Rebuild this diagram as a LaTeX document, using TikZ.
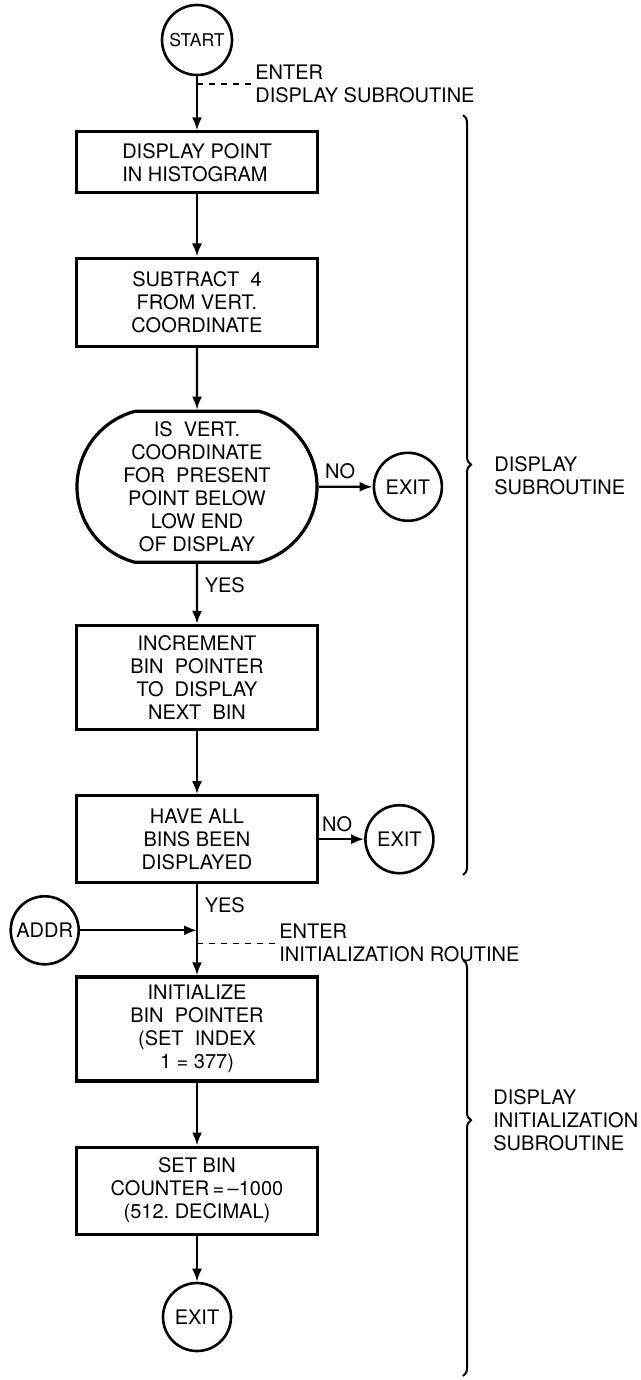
\documentclass[tikz,border=0pt]{standalone}
\usepackage{fontspec}
\setmainfont{TeX Gyre Heros}
\usetikzlibrary{positioning,shapes.misc,arrows.meta,decorations.pathreplacing}

\begin{document}
\begin{tikzpicture}[x=0.5pt,y=0.5pt,
  font=\fontsize{10}{11.5}\selectfont,
  procbox/.style={rectangle, draw, line width=1.6pt, minimum width=120.5pt, align=center, inner sep=2pt},
  testbox/.style={rounded rectangle, rounded rectangle arc length=150, draw, line width=1.6pt, minimum width=122pt, align=center, inner sep=1pt},
  term/.style={circle, draw, line width=1.3pt, minimum size=34pt, inner sep=0pt},
  flow/.style={line width=1.1pt, -{Latex[length=6.5pt,width=5pt]}},
  note/.style={align=left, inner sep=1pt},
  subbrace/.style={decorate, decoration={brace, amplitude=4pt, aspect=#1}, line width=1pt}]
  \useasboundingbox (0,0) rectangle (641,-1380);

  \node[term, minimum size=35pt, font=\fontsize{8.8}{10}\selectfont] (start) at (197,-40) {START};
  \node[procbox, minimum height=30.5pt, align=left, below=27pt of start] (disp) {DISPLAY POINT\\IN HISTOGRAM};
  \node[procbox, minimum height=44pt, below=31pt of disp] (sub) {SUBTRACT\ \ 4\\FROM VERT.\\COORDINATE};
  \node[testbox, minimum height=75.5pt, below=31pt of sub] (test)
    {IS\ \ VERT.\\COORDINATE\\FOR\ \ PRESENT\\POINT BELOW\\LOW END\\OF DISPLAY};
  \node[procbox, minimum height=52pt, below=30pt of test] (incr) {INCREMENT\\BIN\ \ POINTER\\TO\ \ DISPLAY\\NEXT\ \ BIN};
  \node[procbox, minimum height=43.5pt, below=31.5pt of incr] (done) {HAVE ALL\\BINS BEEN\\DISPLAYED};
  \node[procbox, minimum height=52pt, below=45.5pt of done] (init) {INITIALIZE\\BIN\ \ POINTER\\(SET\ \ INDEX\\1 = 377)};
  \node[procbox, minimum height=43.5pt, below=31.5pt of init] (setbin) {SET BIN\\COUNTER\,=\,--1000\\(512.\ DECIMAL)};
  \node[term, below=23pt of setbin] (exitc) {EXIT};

  \node[term, right=27pt of test] (exita) {EXIT};
  \node[term, right=22.5pt of done] (exitb) {EXIT};

  \coordinate[below=4pt of start] (enterdisp);
  \node[note, right=28pt of enterdisp] (enterdisptxt) {ENTER\\DISPLAY SUBROUTINE};
  \coordinate[below=23pt of done] (join);
  \coordinate[below=6.5pt of join] (enterinit);
  \node[note, right=40pt of enterinit] (enterinittxt) {ENTER\\INITIALIZATION ROUTINE};
  \node[term, left=58.5pt of join] (addr) {ADDR};

  % subroutine braces
  \coordinate (disptop) at (463,-115);
  \coordinate (dispbot) at (463,-875);
  \coordinate (inittop) at (463,-960);
  \coordinate (initbot) at (463,-1376);
  \draw[subbrace=0.46] (disptop) -- (dispbot);
  \draw[subbrace=0.385] (inittop) -- (initbot);
  \node[note, anchor=west] (displab) at (492,-476) {DISPLAY\\SUBROUTINE};
  \node[note, anchor=west] (initlab) at (491,-1120) {DISPLAY\\INITIALIZATION\\SUBROUTINE};

  % flow lines
  \draw[flow] (start) -- (disp);
  \draw[dashed, line width=0.8pt] (enterdisp) -- (enterdisptxt.west);
  \draw[flow] (disp) -- (sub);
  \draw[flow] (sub) -- (test);
  \draw[flow] (test) -- node[pos=0.4, above] {NO} (exita);
  \draw[flow] (test) -- node[pos=0.35, right] {YES} (incr);
  \draw[flow] (incr) -- (done);
  \draw[flow] (done) -- node[pos=0.4, above] {NO} (exitb);
  \draw[flow] (done) -- node[pos=0.23, right] {YES} (init);
  \draw[flow] (addr) -- (join);
  \draw[dashed, line width=0.8pt] (enterinit) -- (enterinittxt.west);
  \draw[flow] (init) -- (setbin);
  \draw[flow] (setbin) -- (exitc);
\end{tikzpicture}
\end{document}
